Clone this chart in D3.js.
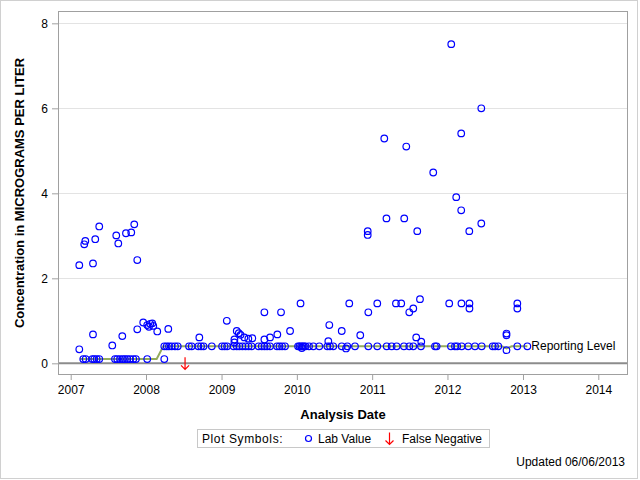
<!DOCTYPE html>
<html>
<head>
<meta charset="utf-8">
<script src="https://cdn.jsdelivr.net/npm/d3@7/dist/d3.min.js"></script>
<style>
  html, body { margin: 0; padding: 0; background: #fff; }
  svg { display: block; font-family: "Liberation Sans", Arial, sans-serif; }
</style>
</head>
<body>
<svg id="chart" width="640" height="480"></svg>
<script>
// ---------------- DATA ----------------
// Analysis dates as decimal years, and concentrations in micrograms per liter
const labYears = [
  2007.114, 2007.114, 2007.167, 2007.180, 2007.194, 2007.199, 2007.287, 2007.296, 2007.296, 2007.313,
  2007.326, 2007.345, 2007.379, 2007.379, 2007.552, 2007.588, 2007.605, 2007.618, 2007.632, 2007.654,
  2007.685, 2007.690, 2007.720, 2007.734, 2007.751, 2007.787, 2007.804, 2007.831, 2007.844, 2007.866,
  2007.884, 2007.884, 2007.963, 2008.016, 2008.016, 2008.039, 2008.056, 2008.083, 2008.096, 2008.149,
  2008.242, 2008.295,
  2008.242, 2008.274, 2008.304, 2008.340, 2008.384, 2008.420, 2008.570, 2008.605, 2008.693, 2008.729,
  2008.762, 2008.871, 2009.007, 2009.041, 2009.074, 2009.160, 2009.202, 2009.237, 2009.277, 2009.319,
  2009.359, 2009.399, 2009.492, 2009.534, 2009.571, 2009.605, 2009.644, 2009.737, 2009.770, 2009.804,
  2009.843, 2010.016, 2010.036, 2010.056, 2010.076, 2010.095, 2010.115, 2010.162, 2010.219, 2010.298,
  2010.405, 2010.440, 2010.484, 2010.596, 2010.670, 2010.772, 2010.949, 2011.068, 2011.193, 2011.259,
  2011.325, 2011.422, 2011.493, 2011.546, 2011.648, 2011.834, 2011.856, 2012.046, 2012.099, 2012.129,
  2012.188, 2012.275, 2012.364, 2012.453, 2012.599, 2012.630, 2012.673, 2012.925, 2013.058,
  2008.706, 2009.070, 2009.171, 2009.171, 2009.202, 2009.229, 2009.253, 2009.303, 2009.356, 2009.409,
  2009.569, 2009.569, 2009.644, 2009.741, 2009.790, 2009.910, 2010.049, 2010.066, 2010.418, 2010.431,
  2010.596, 2010.653, 2010.696, 2010.842, 2010.941, 2010.941, 2010.949, 2011.068, 2011.161, 2011.190,
  2011.316, 2011.386, 2011.426, 2011.453, 2011.493, 2011.546, 2011.585, 2011.599, 2011.635, 2011.652,
  2011.811, 2012.023, 2012.050, 2012.116, 2012.182, 2012.182, 2012.185, 2012.289, 2012.291, 2012.291,
  2012.448, 2012.448, 2012.782, 2012.782, 2012.782, 2012.925, 2012.925
];
const labValues = [
  2.31, 0.33, 0.10, 2.80, 2.88, 0.10, 0.10, 2.35, 0.68, 0.10,
  2.92, 0.10, 3.22, 0.10, 0.42, 0.10, 3.01, 0.10, 2.82, 0.10,
  0.64, 0.10, 0.10, 3.06, 0.10, 0.10, 3.08, 0.10, 3.27, 0.10,
  2.43, 0.80, 0.96, 0.90, 0.10, 0.86, 0.93, 0.94, 0.88, 0.75,
  0.10, 0.81,
  0.40, 0.40, 0.40, 0.40, 0.40, 0.40, 0.40, 0.40, 0.40, 0.40,
  0.40, 0.40, 0.40, 0.40, 0.40, 0.40, 0.40, 0.40, 0.40, 0.40,
  0.40, 0.40, 0.40, 0.40, 0.40, 0.40, 0.40, 0.40, 0.40, 0.40,
  0.40, 0.40, 0.40, 0.40, 0.40, 0.40, 0.40, 0.40, 0.40, 0.40,
  0.40, 0.40, 0.40, 0.40, 0.40, 0.40, 0.40, 0.40, 0.40, 0.40,
  0.40, 0.40, 0.40, 0.40, 0.40, 0.40, 0.40, 0.40, 0.40, 0.40,
  0.40, 0.40, 0.40, 0.40, 0.40, 0.40, 0.40, 0.40, 0.40,
  0.61, 1.00, 0.56, 0.49, 0.76, 0.71, 0.67, 0.61, 0.58, 0.59,
  1.20, 0.56, 0.61, 0.68, 1.20, 0.76, 1.41, 0.36, 0.52, 0.90,
  0.76, 0.35, 1.41, 0.66, 3.11, 3.02, 1.20, 1.41, 5.29, 3.41,
  1.41, 1.41, 3.41, 5.10, 1.20, 1.29, 0.61, 3.11, 1.51, 0.51,
  4.49, 1.41, 7.51, 3.91, 5.41, 3.60, 1.41, 3.11, 1.41, 1.29,
  6.00, 3.29, 0.70, 0.66, 0.31, 1.41, 1.29
];

// Reporting level over time
const reportingYears  = [2007.123, 2008.141, 2008.229, 2012.720, 2012.784, 2012.850, 2013.058];
const reportingLevels = [0.10, 0.10, 0.40, 0.40, 0.35, 0.40, 0.40];

// False negative results
const falseNegYears  = [2008.517];
const falseNegValues = [0];

const yTicks = [0, 2, 4, 6, 8];
const xTickYears = [2007, 2008, 2009, 2010, 2011, 2012, 2013, 2014];

// ---------------- HELPERS ----------------
function toDate(y) {
  const yr = Math.floor(y);
  const s = Date.UTC(yr, 0, 1), e = Date.UTC(yr + 1, 0, 1);
  return new Date(s + (y - yr) * (e - s));
}

const labData = labYears.map((d, i) => ({ date: toDate(d), value: labValues[i] }));
const repData = reportingYears.map((d, i) => ({ date: toDate(d), value: reportingLevels[i] }));
const fnData = falseNegYears.map((d, i) => ({ date: toDate(d), value: falseNegValues[i] }));

// ---------------- LAYOUT ----------------
const svg = d3.select("#chart");
const plot = { left: 58, top: 11, right: 628, bottom: 375 };

const x = d3.scaleTime()
  .domain([new Date(Date.UTC(2007, 0, 1)), new Date(Date.UTC(2014, 0, 1))])
  .range([70.7, 598.3]);
const y = d3.scaleLinear()
  .domain([-0.275, 8.29])
  .range([plot.bottom, plot.top]);

// outer border
svg.append("rect")
  .attr("x", 0.5).attr("y", 0.5).attr("width", 637).attr("height", 478)
  .attr("fill", "#fff").attr("stroke", "#d0d0d0");

// gridlines
svg.append("g")
  .selectAll("line").data(yTicks.filter(t => t !== 0)).join("line")
  .attr("x1", plot.left).attr("x2", plot.right)
  .attr("y1", d => Math.round(y(d)) + 0.5).attr("y2", d => Math.round(y(d)) + 0.5)
  .attr("stroke", "#e3e3e3").attr("stroke-width", 1);

// zero reference line
svg.append("line")
  .attr("x1", plot.left).attr("x2", plot.right)
  .attr("y1", y(0)).attr("y2", y(0))
  .attr("stroke", "#8c8c8c").attr("stroke-width", 2);

// frame
svg.append("rect")
  .attr("x", plot.left + 0.5).attr("y", plot.top + 0.5)
  .attr("width", plot.right - plot.left - 1).attr("height", plot.bottom - plot.top - 1)
  .attr("fill", "none").attr("stroke", "#a0a0a0");

// y axis
const yAxis = d3.axisLeft(y).tickValues(yTicks).tickSize(6).tickPadding(4).tickFormat(d3.format("d"));
const gy = svg.append("g").attr("transform", `translate(${plot.left},0)`).call(yAxis);
gy.select(".domain").remove();
gy.selectAll(".tick line").attr("stroke", "#a0a0a0");
gy.selectAll(".tick text").attr("font-size", 12).attr("fill", "#000")
  .attr("font-family", "Liberation Sans, Arial, sans-serif");

// x axis
const xAxis = d3.axisBottom(x)
  .tickValues(xTickYears.map(yv => new Date(Date.UTC(yv, 0, 1))))
  .tickFormat(d3.utcFormat("%Y")).tickSize(6).tickPadding(5);
const gx = svg.append("g").attr("transform", `translate(0,${plot.bottom - 1})`).call(xAxis);
gx.select(".domain").remove();
gx.selectAll(".tick line").attr("stroke", "#a0a0a0");
gx.selectAll(".tick text").attr("font-size", 12).attr("fill", "#000")
  .attr("font-family", "Liberation Sans, Arial, sans-serif");

// axis titles
svg.append("text")
  .attr("x", 343).attr("y", 419).attr("text-anchor", "middle")
  .attr("font-size", 13).attr("font-weight", "bold").text("Analysis Date");
svg.append("text")
  .attr("transform", `translate(24,${(plot.top + plot.bottom) / 2}) rotate(-90)`)
  .attr("text-anchor", "middle")
  .attr("font-size", 13).attr("font-weight", "bold")
  .text("Concentration in MICROGRAMS PER LITER");

// reporting level line
const repLine = d3.line().x(d => x(d.date)).y(d => y(d.value));
svg.append("path").datum(repData)
  .attr("d", repLine).attr("fill", "none")
  .attr("stroke", "#94ab5c").attr("stroke-width", 2);
svg.append("text")
  .attr("x", x(repData[repData.length - 1].date) + 4)
  .attr("y", y(repData[repData.length - 1].value) + 4)
  .attr("font-size", 12).text("Reporting Level");

// lab value circles
svg.append("g").selectAll("circle").data(labData).join("circle")
  .attr("cx", d => x(d.date)).attr("cy", d => y(d.value)).attr("r", 3.3)
  .attr("fill", "none").attr("stroke", "#0000ff").attr("stroke-width", 1.2);

// false negative arrows
function arrowPath(cx, cy) {
  return `M${cx},${cy - 6} L${cx},${cy + 6} M${cx - 4},${cy + 2} L${cx},${cy + 6} L${cx + 4},${cy + 2}`;
}
svg.append("g").selectAll("path").data(fnData).join("path")
  .attr("d", d => arrowPath(x(d.date), y(d.value)))
  .attr("fill", "none").attr("stroke", "#ff0000").attr("stroke-width", 1.2);

// legend
const lg = svg.append("g");
lg.append("rect").attr("x", 197.5).attr("y", 429.5).attr("width", 292).attr("height", 18)
  .attr("fill", "#fff").attr("stroke", "#c8c8c8");
lg.append("text").attr("x", 202).attr("y", 443).attr("font-size", 12)
  .attr("letter-spacing", 0.6).text("Plot Symbols:");
lg.append("circle").attr("cx", 308.5).attr("cy", 438.5).attr("r", 3)
  .attr("fill", "none").attr("stroke", "#0000ff").attr("stroke-width", 1.2);
lg.append("text").attr("x", 318).attr("y", 443).attr("font-size", 12).text("Lab Value");
lg.append("path").attr("d", arrowPath(389.5, 438.5))
  .attr("fill", "none").attr("stroke", "#ff0000").attr("stroke-width", 1.2);
lg.append("text").attr("x", 402).attr("y", 443).attr("font-size", 12).text("False Negative");

// footnote
svg.append("text").attr("x", 625).attr("y", 466).attr("text-anchor", "end")
  .attr("font-size", 12).text("Updated 06/06/2013");
</script>
</body>
</html>
